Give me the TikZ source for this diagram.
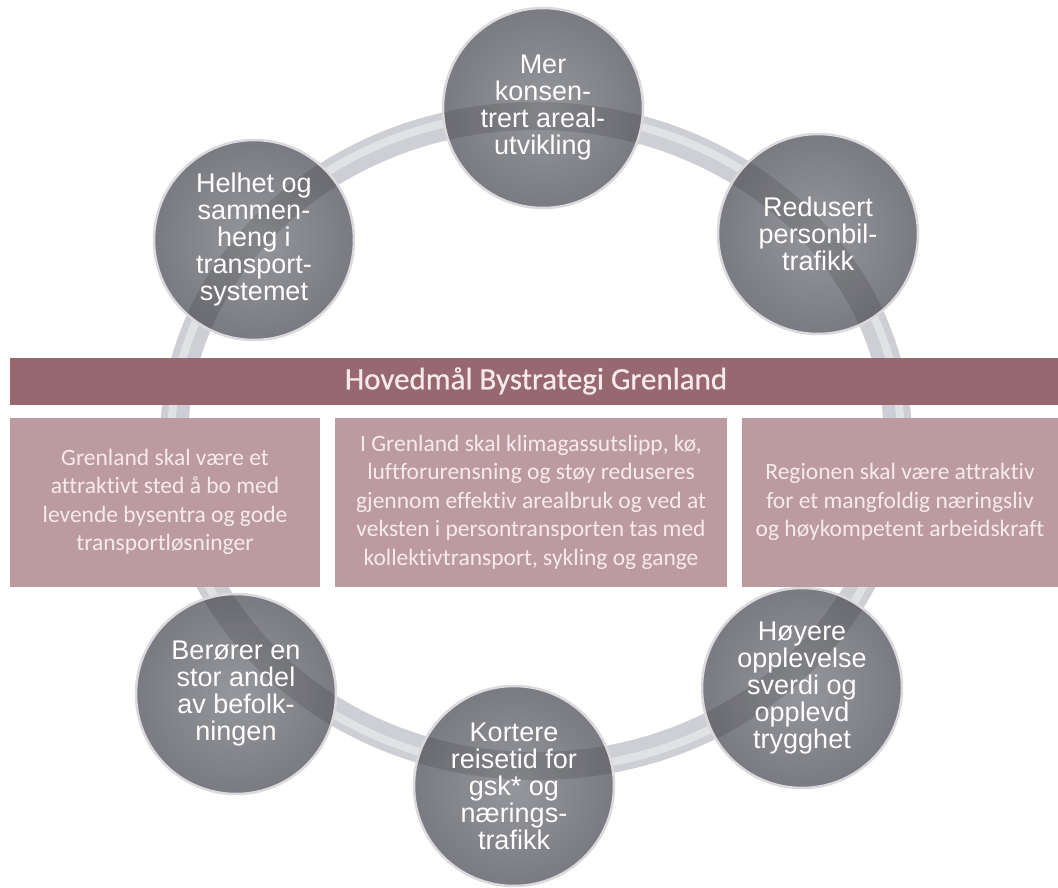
\documentclass[tikz,border=0pt]{standalone}
\usepackage{fontspec}
\setmainfont{Liberation Sans}
\newfontfamily\calibri[Ligatures=NoCommon]{Carlito}
\newfontfamily\calibrihead[Ligatures=NoCommon,FakeBold=0.6]{Carlito}

\definecolor{bannerfill}{RGB}{151,104,111}
\definecolor{boxfill}{RGB}{188,155,160}
\definecolor{boxtext}{RGB}{246,234,236}
\definecolor{ringgray}{RGB}{206,207,212}
\definecolor{ballin}{RGB}{150,151,156}
\definecolor{ballout}{RGB}{122,123,129}
\definecolor{ballrim}{RGB}{218,218,222}

\begin{document}
\begin{tikzpicture}[x=1pt,y=-1pt,
    ringband/.style={line width=28pt, draw=ringgray},
    goal/.style={circle, minimum size=200pt, inner sep=0pt, align=center,
      text=white, inner color=ballin, outer color=ballout,
      draw=ballrim, line width=2.5pt, font=\fontsize{27}{27}\selectfont,
      path picture={\draw[ringband, draw=black, opacity=0.12]
        (hub) ellipse [x radius=362, y radius=325];}},
    goalbox/.style={fill=boxfill, text=boxtext, inner sep=0pt, align=center,
      minimum height=169pt, font=\calibri\fontsize{23.5}{28.5}\selectfont}]
  \useasboundingbox[fill=white] (0,0) rectangle (1058,888);

  % the ring behind everything
  \coordinate (hub) at (536,441);
  \draw[ringband] (hub) ellipse [x radius=362, y radius=325];
  \draw[line width=8pt, draw=white, opacity=0.4] (hub) ellipse [x radius=365, y radius=328];

  % the six circles
  \node[goal] (mer)      at (543,108) {Mer\\konsen-\\trert areal-\\utvikling};
  \node[goal] (redusert) at (818,234) {Redusert\\personbil-\\trafikk};
  \node[goal] (hoyere)   at (802,688) {Høyere\\opplevelse\\sverdi og\\opplevd\\trygghet};
  \node[goal] (kortere)  at (514,786) {Kortere\\reisetid for\\gsk* og\\nærings-\\trafikk};
  \node[goal] (berorer)  at (236,694) {Berører en\\stor andel\\av befolk-\\ningen};
  \node[goal] (helhet)   at (254,240) {Helhet og\\sammen-\\heng i\\transport-\\systemet};

  % main goal banner and the three boxes
  \node[fill=bannerfill, text=boxtext, minimum width=1052pt, minimum height=47pt,
    inner sep=0pt, font=\calibrihead\fontsize{31}{32}\selectfont] (banner) at (536,381)
    {Hovedmål Bystrategi Grenland};

  \node[goalbox, minimum width=310pt] (leftgoal) at (165,502)
    {Grenland skal være et\\attraktivt sted å bo med\\levende bysentra og gode\\transportløsninger};
  \node[goalbox, minimum width=392pt] (midgoal) at (531,502)
    {I Grenland skal klimagassutslipp, kø,\\luftforurensning og støy reduseres\\gjennom effektiv arealbruk og ved at\\veksten i persontransporten tas med\\kollektivtransport, sykling og gange};
  \node[goalbox, minimum width=316pt] (rightgoal) at (900,502)
    {Regionen skal være attraktiv\\for et mangfoldig næringsliv\\og høykompetent arbeidskraft};
\end{tikzpicture}
\end{document}
